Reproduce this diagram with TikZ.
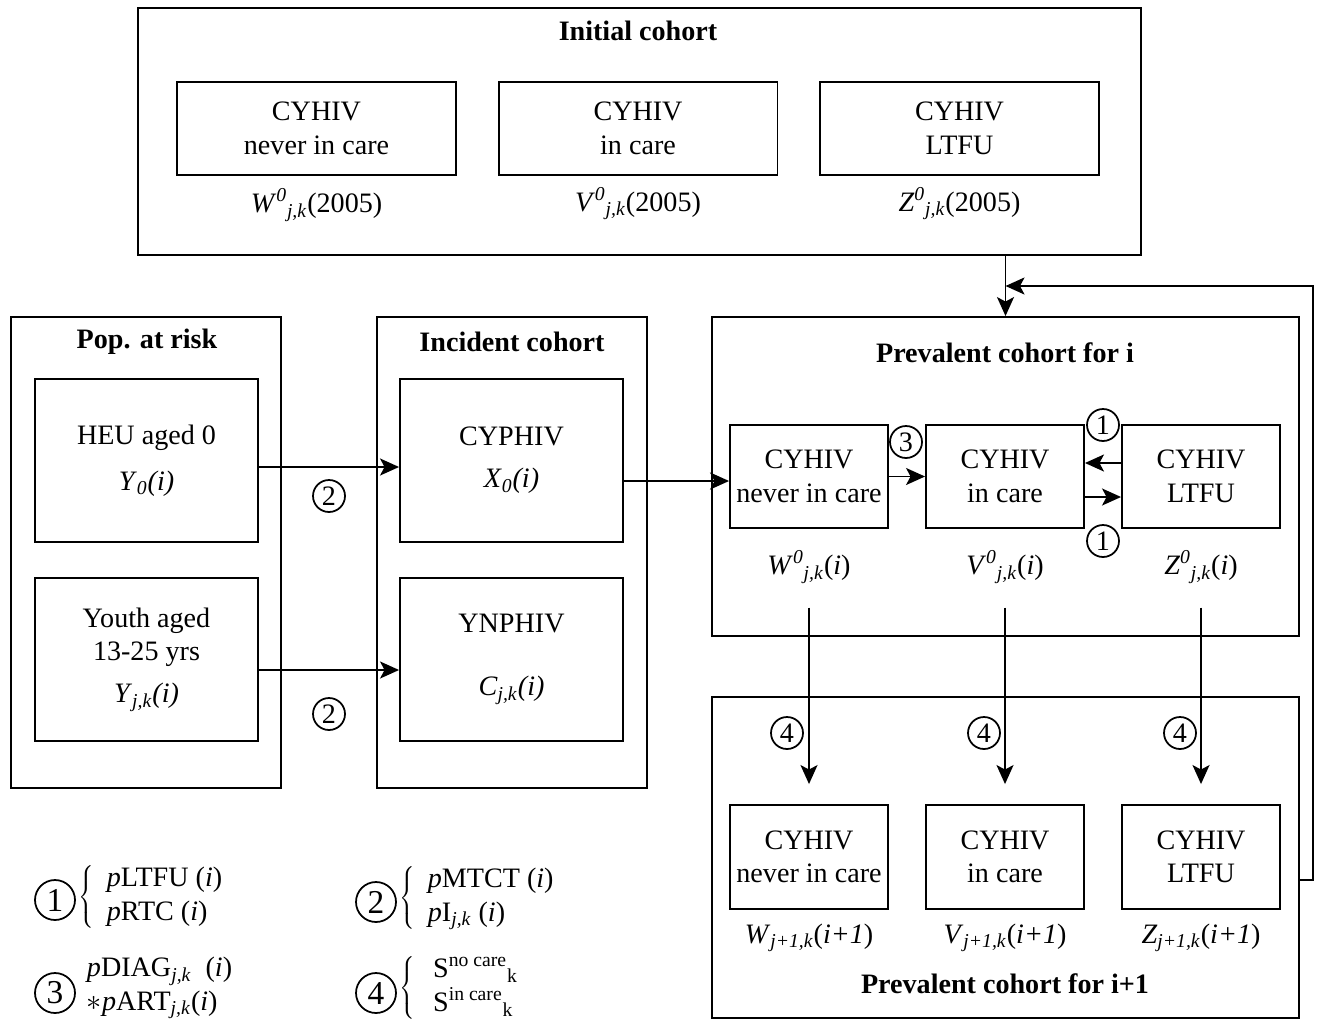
\documentclass[tikz,border=0pt]{standalone}
\usepackage{fontspec}
\setmainfont{Liberation Serif}
\usetikzlibrary{arrows.meta}

\newcommand{\cvar}[3]{\textit{#1}\textsuperscript{\textit{#2}}\textsubscript{\textit{#3}}}

\begin{document}
\begin{tikzpicture}[x=0.02cm, y=-0.02cm, line width=1.1pt, >={Stealth[length=0.38cm,width=0.34cm,inset=0.09cm]}]
    \tikzstyle{every node}=[font=\fontsize{16}{19}\selectfont]
    \tikzstyle{cohort}=[draw, rectangle, minimum width=11.74cm]
    \tikzstyle{state}=[draw, rectangle, align=center, minimum width=3.16cm, minimum height=2.06cm]
    \tikzstyle{heading}=[font=\fontsize{16}{19}\selectfont\bfseries]
    \tikzstyle{num}=[draw, circle, fill=white, inner sep=0pt, minimum size=0.64cm, line width=1pt]
    \tikzstyle{big num}=[num, minimum size=0.8cm, font=\fontsize{19}{22}\selectfont]
    \tikzstyle{annot}=[anchor=west, align=left, inner sep=0pt]

    \useasboundingbox (0,0) rectangle (1321,1021);

    % Draw the initial cohort
    \node[cohort, minimum width=20.06cm, minimum height=4.94cm] (init) at (639.5,131.5) {};
    \node[heading] (t-init) at (638,31) {Initial cohort};
    \foreach \name / \x / \txt in {W/316.5/{CYHIV\\never in care}, V/638/{CYHIV\\in care}, Z/959.5/{CYHIV\\LTFU}}
        \node[state, minimum width=5.58cm, minimum height=1.86cm] (I-\name) at (\x,128.5) {\txt};
    \node[below of=I-W, node distance=1.53cm] (lI-W) {\cvar{W}{0}{j,k}(2005)};
    \node[below of=I-V, node distance=1.5cm] (lI-V) {\cvar{V}{0}{j,k}(2005)};
    \node[below of=I-Z, node distance=1.5cm] (lI-Z) {\cvar{Z}{0}{j,k}(2005)};

    % Draw the population at risk
    \node[cohort, minimum width=5.4cm, minimum height=9.42cm] (risk) at (146,552.5) {};
    \node[heading] (t-risk) at (147,342) {Pop. at risk};
    \node[state, minimum width=4.46cm, minimum height=3.26cm] (heu) at (146.5,460.5)
        {HEU aged 0\\[7pt]\textit{Y}\textsubscript{\textit{0}}\textit{(i)}};
    \node[state, minimum width=4.46cm, minimum height=3.26cm] (youth) at (146.5,659.5)
        {Youth aged\\13-25 yrs\\[5pt]\textit{Y}\textsubscript{\textit{j,k}}\textit{(i)}};

    % Draw the incident cohort
    \node[cohort, minimum width=5.4cm, minimum height=9.42cm] (incid) at (512,552.5) {};
    \node[heading] (t-incid) at (512,342) {Incident cohort};
    \node[state, minimum width=4.46cm, minimum height=3.26cm] (cyphiv) at (511.5,460.5)
        {CYPHIV\\[5pt]\textit{X}\textsubscript{\textit{0}}\textit{(i)}};
    \node[state, minimum width=4.46cm, minimum height=3.26cm] (ynphiv) at (511.5,659.5)
        {YNPHIV\\[17pt]\textit{C}\textsubscript{\textit{j,k}}\textit{(i)}};

    % Draw the prevalent cohort for i
    \node[cohort, minimum height=6.38cm] (prev) at (1005.5,476.5) {};
    \node[heading] (t-prev) at (1005,353) {Prevalent cohort for i};
    \foreach \name / \x / \txt in {W/809/{CYHIV\\never in care}, V/1005/{CYHIV\\in care}, Z/1201/{CYHIV\\LTFU}}
        \node[state] (P-\name) at (\x,476.5) {\txt};
    \node[below of=P-W, node distance=1.81cm] (lP-W) {\cvar{W}{0}{j,k}(\textit{i})};
    \node[below of=P-V, node distance=1.81cm] (lP-V) {\cvar{V}{0}{j,k}(\textit{i})};
    \node[below of=P-Z, node distance=1.81cm] (lP-Z) {\cvar{Z}{0}{j,k}(\textit{i})};

    % Draw the prevalent cohort for i+1
    \node[cohort, minimum height=6.42cm] (next) at (1005.5,857.5) {};
    \node[heading] (t-next) at (1005,984) {Prevalent cohort for i+1};
    \foreach \name / \x / \txt in {W/809/{CYHIV\\never in care}, V/1005/{CYHIV\\in care}, Z/1201/{CYHIV\\LTFU}}
        \node[state, minimum height=2.08cm] (N-\name) at (\x,857) {\txt};
    \node[below of=N-W, node distance=1.62cm] (lN-W) {\textit{W}\textsubscript{\textit{j+1,k}}(\textit{i+1})};
    \node[below of=N-V, node distance=1.62cm] (lN-V) {\textit{V}\textsubscript{\textit{j+1,k}}(\textit{i+1})};
    \node[below of=N-Z, node distance=1.62cm] (lN-Z) {\textit{Z}\textsubscript{\textit{j+1,k}}(\textit{i+1})};

    % Connect the cohorts
    \coordinate (loop) at (1313,286);
    \coordinate (join) at (1005.5,286);
    \coordinate (w-in) at ([yshift=-0.09cm]P-W.west);
    \draw[->] (init.south -| prev.north) -- (prev.north);
    \draw[->] ([yshift=-0.45cm]next.east) -| (loop) -- (join);
    \draw[->] ([yshift=-0.13cm]heu.east) -- ([yshift=-0.13cm]cyphiv.west);
    \draw[->] ([yshift=-0.21cm]youth.east) -- ([yshift=-0.21cm]ynphiv.west);
    \draw[->] (cyphiv.east |- w-in) -- (w-in);

    % Transitions inside the prevalent cohort
    \draw[->] (P-W) -- (P-V);
    \draw[->] ([yshift=0.27cm]P-Z.west) -- ([yshift=0.27cm]P-V.east);
    \draw[->] ([yshift=-0.41cm]P-V.east) -- ([yshift=-0.41cm]P-Z.west);
    \foreach \name in {W,V,Z}
        \draw[->] ([yshift=-0.35cm]lP-\name.south) -- ([yshift=0.4cm]N-\name.north);

    % Number the transitions
    \node[num] (n2a) at (329,496) {2};
    \node[num] (n2b) at (329,714) {2};
    \node[num] (n3) at (906,442) {3};
    \node[num] (n1a) at (1103,425) {1};
    \node[num] (n1b) at (1103,541) {1};
    \foreach \name / \x in {W/787,V/984,Z/1180}
        \node[num] (n4-\name) at (\x,733) {4};

    % Legend
    \node[big num] (k1) at (55,900) {1};
    \node[annot] (k1-txt) at (78,897) {$\left\{\hspace{7pt}\begin{tabular}{@{}l@{}}\textit{p}LTFU (\textit{i})\\ \textit{p}RTC (\textit{i})\end{tabular}\right.$};
    \node[big num] (k2) at (376,902) {2};
    \node[annot] (k2-txt) at (399,898) {$\left\{\hspace{7pt}\begin{tabular}{@{}l@{}}\textit{p}MTCT (\textit{i})\\ \textit{p}I\textsubscript{\textit{j,k}} (\textit{i})\end{tabular}\right.$};
    \node[big num] (k3) at (55,993) {3};
    \node[annot] (k3-txt) at (86,987) {\begin{tabular}{@{}l@{}}\textit{p}DIAG\textsubscript{\textit{j,k}}~~(\textit{i})\\ $\ast$\textit{p}ART\textsubscript{\textit{j,k}}(\textit{i})\end{tabular}};
    \node[big num] (k4) at (376,993) {4};
    \node[annot] (k4-txt) at (399,988) {$\left\{\hspace{10pt}\begin{tabular}{@{}l@{}}S\textsuperscript{no care}\textsubscript{k}\\ S\textsuperscript{in care}\textsubscript{k}\end{tabular}\right.$};
\end{tikzpicture}
\end{document}
